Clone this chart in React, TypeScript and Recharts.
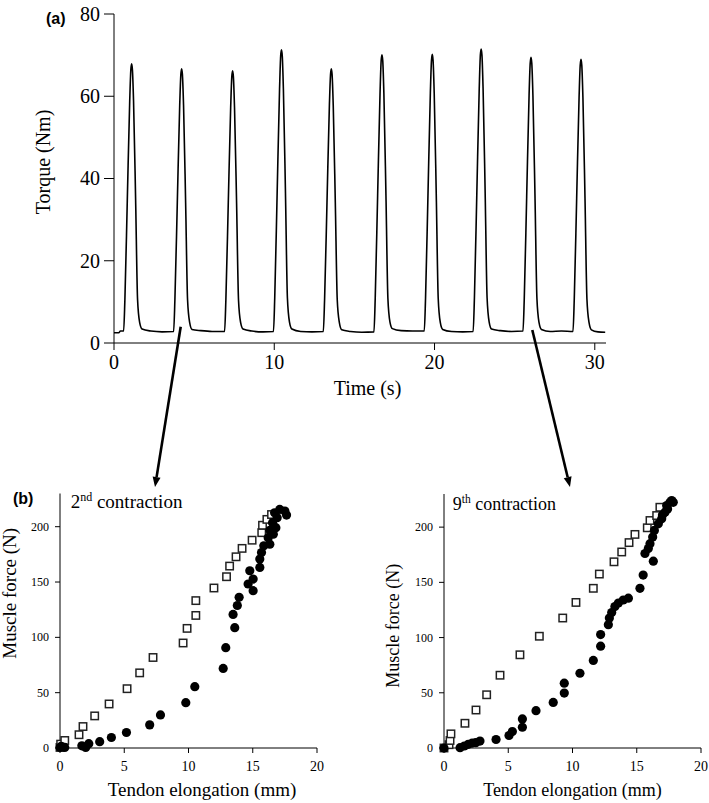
import React from "react"
import { LineChart, Line, ScatterChart, Scatter, XAxis, YAxis } from "recharts"

const SERIF = '"Liberation Serif", "Times New Roman", serif'
const SANS = '"Liberation Sans", Arial, sans-serif'

// (a) torque trace: time (s) and torque (Nm)
const torqueTime = [
  0, 0.3, 0.4,
  0.6, 0.68, 0.83, 0.98, 1.05, 1.1, 1.15, 1.22, 1.35, 1.47, 1.6, 1.75, 2.3, 3.0,
  3.72, 3.8, 3.95, 4.1, 4.17, 4.22, 4.27, 4.34, 4.47, 4.59, 4.72, 4.87, 5.42, 6.12,
  6.9, 6.98, 7.13, 7.28, 7.35, 7.4, 7.45, 7.52, 7.65, 7.77, 7.9, 8.05, 8.6, 9.3,
  9.95, 10.03, 10.18, 10.33, 10.4, 10.45, 10.5, 10.57, 10.7, 10.82, 10.95, 11.1, 11.65, 12.35,
  13.06, 13.14, 13.29, 13.44, 13.51, 13.56, 13.61, 13.68, 13.81, 13.93, 14.06, 14.21, 14.76, 15.46,
  16.22, 16.3, 16.45, 16.6, 16.67, 16.72, 16.77, 16.84, 16.97, 17.09, 17.22, 17.37, 17.92, 18.62,
  19.36, 19.44, 19.59, 19.74, 19.81, 19.86, 19.91, 19.98, 20.11, 20.23, 20.36, 20.51, 21.06, 21.76,
  22.41, 22.49, 22.64, 22.79, 22.86, 22.91, 22.96, 23.03, 23.16, 23.28, 23.41, 23.56, 24.11, 24.81,
  25.52, 25.6, 25.75, 25.9, 25.97, 26.02, 26.07, 26.14, 26.27, 26.39, 26.52, 26.67, 27.22, 27.92,
  28.64, 28.72, 28.87, 29.02, 29.09, 29.14, 29.19, 29.26, 29.39, 29.51, 29.64, 29.79, 30.2, 30.65,
]
const torqueNm = [
  2.5, 2.5, 2.9,
  2.9, 10.6, 34.7, 58.8, 66.4, 67.9, 66.4, 58.8, 34.7, 10.6, 5.0, 3.4, 2.9, 2.7,
  2.8, 10.5, 34.1, 57.8, 65.2, 66.7, 65.2, 57.8, 34.1, 10.5, 5.0, 3.3, 3.0, 2.8,
  2.8, 10.4, 33.9, 57.3, 64.7, 66.2, 64.7, 57.3, 33.9, 10.4, 5.0, 3.4, 2.9, 2.7,
  2.8, 11.0, 36.4, 61.7, 69.8, 71.3, 69.8, 61.7, 36.4, 11.0, 5.1, 3.4, 2.8, 2.7,
  2.8, 10.5, 34.1, 57.8, 65.2, 66.7, 65.2, 57.8, 34.1, 10.5, 5.0, 3.2, 2.8, 2.6,
  2.7, 10.9, 35.8, 60.7, 68.6, 70.1, 68.6, 60.7, 35.8, 10.9, 5.1, 3.5, 3.0, 2.9,
  2.9, 10.9, 35.8, 60.8, 68.7, 70.2, 68.7, 60.8, 35.8, 10.9, 5.0, 3.3, 2.8, 2.7,
  2.8, 11.0, 36.5, 61.9, 70.0, 71.5, 70.0, 61.9, 36.5, 11.0, 5.1, 3.4, 3.0, 2.8,
  2.9, 10.8, 35.5, 60.2, 68.0, 69.5, 68.0, 60.2, 35.5, 10.8, 5.0, 3.3, 2.8, 2.9,
  2.8, 10.7, 35.2, 59.7, 67.5, 69.0, 67.5, 59.7, 35.2, 10.7, 5.0, 3.2, 2.7, 2.6,
]
const timeTicks = [0, 10, 20, 30]
const torqueTicks = [0, 20, 40, 60, 80]

// (b) tendon elongation (mm) vs muscle force (N)
const elongTicks = [0, 5, 10, 15, 20]
const forceTicks = [0, 50, 100, 150, 200]

const second_open: [number, number][] = [
  [0, 0.5], [0.05, 3.5], [0.37, 6.8], [1.48, 12], [1.79, 19.4], [2.7, 29], [3.82, 39.8],
  [5.22, 53.6], [6.2, 67.9], [7.24, 81.8], [9.58, 94.9], [9.89, 108.1], [10.57, 119.8],
  [10.57, 133.2], [11.98, 144.6], [12.96, 154.8], [13.2, 164.4], [13.7, 172.8], [14.17, 180.4],
  [14.95, 187.8], [15.7, 194.6], [15.76, 201.3], [16.1, 206.6], [16.46, 211],
]
const second_filled: [number, number][] = [
  [0, 0.5], [0.1, 1.5], [0.37, 0.5], [1.7, 2], [2.0, 0.5], [2.24, 3.9], [3.09, 5.7], [4.0, 9.5],
  [5.17, 14], [6.98, 20.9], [7.82, 29.9], [9.79, 41], [10.49, 55.4], [12.7, 71.9], [12.9, 90.7],
  [13.6, 108.7], [13.47, 120.7], [13.8, 128.8], [13.94, 136.2], [15.03, 142.2], [14.64, 148.2],
  [15.03, 152.7], [14.77, 160.2], [15.55, 163.2], [15.55, 170.7], [15.68, 176.6], [15.86, 182.7],
  [16.33, 184.2], [16.2, 190.1], [16.6, 193.2], [16.33, 196.8], [16.8, 199.1], [16.54, 203.6],
  [16.9, 208.1], [16.7, 212.6], [17.1, 215.6], [17.5, 214.1], [17.63, 210.5],
]
const ninth_open: [number, number][] = [
  [0, 0], [0.39, 3], [0.47, 6.8], [0.54, 12.8], [1.63, 22.4], [2.49, 34.4], [3.32, 48.2],
  [4.36, 65.9], [5.91, 84.4], [7.42, 101.2], [9.24, 117.7], [10.27, 131.8], [11.62, 144.6],
  [12.09, 157.5], [13.23, 168.6], [13.83, 177.5], [14.4, 186], [14.86, 193.4], [15.82, 199.4],
  [16.03, 206], [16.55, 210.5], [16.8, 218],
]
const ninth_filled: [number, number][] = [
  [0, 0], [1.25, 0.3], [1.58, 1.8], [1.89, 3.3], [2.2, 4.5], [2.47, 4.8], [2.8, 6.3], [4.05, 7.7],
  [5.06, 11.3], [5.32, 14.9], [6.1, 18.8], [6.1, 26.3], [7.16, 33.8], [8.5, 41.3], [9.36, 49.7],
  [9.36, 58.7], [10.58, 67.7], [11.62, 79.3], [12.19, 92.2], [12.19, 102.7], [12.79, 111.7],
  [12.87, 117.7], [13.05, 122.7], [13.3, 128.1], [13.57, 131.2], [13.95, 134], [14.35, 135.7],
  [15.25, 144.6], [15.5, 156.6], [16.29, 169.2], [15.64, 176.1], [15.9, 180.6], [16.03, 185],
  [16.24, 191], [16.37, 197], [16.68, 203], [16.94, 207.5], [17.0, 211], [17.2, 213.5],
  [17.33, 219.5], [17.4, 216.5], [17.59, 222.5], [17.72, 224], [17.84, 222.5],
]

const torqueData = torqueTime.map((t, i) => ({ t, v: torqueNm[i] }))
const toPoints = (pairs: [number, number][]) => pairs.map(([x, y]) => ({ x, y }))

const OpenSquare = (props: any) => {
  const { cx, cy } = props
  if (cx == null || cy == null) return null
  return <rect x={cx - 3.7} y={cy - 3.7} width={7.4} height={7.4} fill="#fff" stroke="#222" strokeWidth={1.5} />
}

const FilledDot = (props: any) => {
  const { cx, cy } = props
  if (cx == null || cy == null) return null
  return <circle cx={cx} cy={cy} r={4.6} fill="#000" />
}

// serif tick label; x ticks hang below, y ticks sit centred on the tick
function serifTick(size: number, side: "x" | "y") {
  return (props: any) => {
    const { x, y, payload } = props
    return (
      <text
        x={x}
        y={y}
        dy={side === "x" ? size * 0.71 : size * 0.34}
        textAnchor={side === "x" ? "middle" : "end"}
        fontFamily={SERIF}
        fontSize={size}
        fill="#000"
      >
        {payload.value}
      </text>
    )
  }
}

// axis title placed relative to the axis box
function axisTitle(text: string, size: number, dx: number, dy: number, vertical = false) {
  return (props: any) => {
    const vb = props.viewBox || { x: 0, y: 0 }
    const x = vb.x + dx
    const y = vb.y + dy
    return (
      <text
        x={x}
        y={y}
        transform={vertical ? `rotate(-90 ${x} ${y})` : undefined}
        textAnchor="middle"
        fontFamily={SERIF}
        fontSize={size}
        fill="#000"
      >
        {text}
      </text>
    )
  }
}

function Arrow({ x1, y1, x2, y2 }: { x1: number; y1: number; x2: number; y2: number }) {
  const len = Math.hypot(x2 - x1, y2 - y1)
  const ux = (x2 - x1) / len
  const uy = (y2 - y1) / len
  const bx = x2 - ux * 10
  const by = y2 - uy * 10
  const px = -uy * 4
  const py = ux * 4
  return (
    <g>
      <line x1={x1} y1={y1} x2={bx} y2={by} stroke="#000" strokeWidth={2.6} />
      <polygon points={`${x2},${y2} ${bx + px},${by + py} ${bx - px},${by - py}`} fill="#000" />
    </g>
  )
}

const axisColor = "#000"

function ForcePanel({ open, filled, left, width, yAxisWidth, rightMargin, topMargin, titleSize, yTitleDx, yTitleDy, xTitleDx }: any) {
  return (
    <div style={{ position: "absolute", left, top: 480 }}>
      <ScatterChart
        width={width}
        height={323}
        margin={{ top: topMargin, right: rightMargin, bottom: 0, left: 0 }}
      >
        <XAxis
          type="number"
          dataKey="x"
          domain={[0, 20]}
          ticks={elongTicks}
          height={55}
          tickSize={5}
          tickMargin={8}
          stroke={axisColor}
          tick={serifTick(14, "x")}
          label={{ content: axisTitle("Tendon elongation (mm)", titleSize, xTitleDx, 47.7) }}
        />
        <YAxis
          type="number"
          dataKey="y"
          domain={[0, 230]}
          ticks={forceTicks}
          width={yAxisWidth}
          tickSize={5}
          tickMargin={6}
          stroke={axisColor}
          tick={serifTick(12, "y")}
          label={{ content: axisTitle("Muscle force (N)", titleSize, yTitleDx, yTitleDy, true) }}
        />
        <Scatter data={toPoints(open)} shape={OpenSquare} isAnimationActive={false} />
        <Scatter data={toPoints(filled)} shape={FilledDot} isAnimationActive={false} />
      </ScatterChart>
    </div>
  )
}

export default function App() {
  return (
    <div style={{ position: "absolute", left: 0, top: 0, width: 709, height: 803, background: "#fff", fontFamily: SERIF }}>
      <div style={{ position: "absolute", left: 0, top: 0 }}>
        <LineChart width={709} height={400} data={torqueData} margin={{ top: 14, right: 103, bottom: 0, left: 0 }}>
          <XAxis
            type="number"
            dataKey="t"
            domain={[0, 30.7]}
            ticks={timeTicks}
            height={57}
            tickSize={7}
            tickMargin={5}
            stroke={axisColor}
            tick={serifTick(20, "x")}
            label={{ content: axisTitle("Time (s)", 20, 253.5, 52) }}
          />
          <YAxis
            type="number"
            domain={[0, 80]}
            ticks={torqueTicks}
            width={114}
            tickSize={10}
            tickMargin={4}
            stroke={axisColor}
            tick={serifTick(20, "y")}
            label={{ content: axisTitle("Torque (Nm)", 20, 50, 148, true) }}
          />
          <Line
            type="monotone"
            dataKey="v"
            stroke="#000"
            strokeWidth={1.6}
            dot={false}
            isAnimationActive={false}
          />
        </LineChart>
      </div>

      <ForcePanel
        open={second_open}
        filled={second_filled}
        left={0}
        width={340}
        yAxisWidth={60}
        rightMargin={23}
        topMargin={13.5}
        titleSize={19}
        xTitleDx={142}
        yTitleDx={15.8}
        yTitleDy={99.8}
      />
      <ForcePanel
        open={ninth_open}
        filled={ninth_filled}
        left={370}
        width={339}
        yAxisWidth={74}
        rightMargin={8}
        topMargin={14}
        titleSize={18}
        xTitleDx={128.5}
        yTitleDx={29.5}
        yTitleDy={131.8}
      />

      <svg
        width={709}
        height={803}
        style={{ position: "absolute", left: 0, top: 0, pointerEvents: "none" }}
      >
        <text x={46} y={24} fontFamily={SANS} fontWeight="bold" fontSize={16} fill="#000">(a)</text>
        <text x={13} y={504} fontFamily={SANS} fontWeight="bold" fontSize={16} fill="#000">(b)</text>
        <text x={70.7} y={508} fontFamily={SERIF} fontSize={19} fill="#000">
          2<tspan dy={-7} fontSize={12}>nd</tspan>
          <tspan dy={7}> contraction</tspan>
        </text>
        <text x={452.7} y={510} fontFamily={SERIF} fontSize={18} fill="#000">
          9<tspan dy={-7} fontSize={11.5}>th</tspan>
          <tspan dy={7}> contraction</tspan>
        </text>
        <Arrow x1={180.7} y1={326.7} x2={155} y2={487} />
        <Arrow x1={532.3} y1={330} x2={570} y2={487} />
      </svg>
    </div>
  )
}
